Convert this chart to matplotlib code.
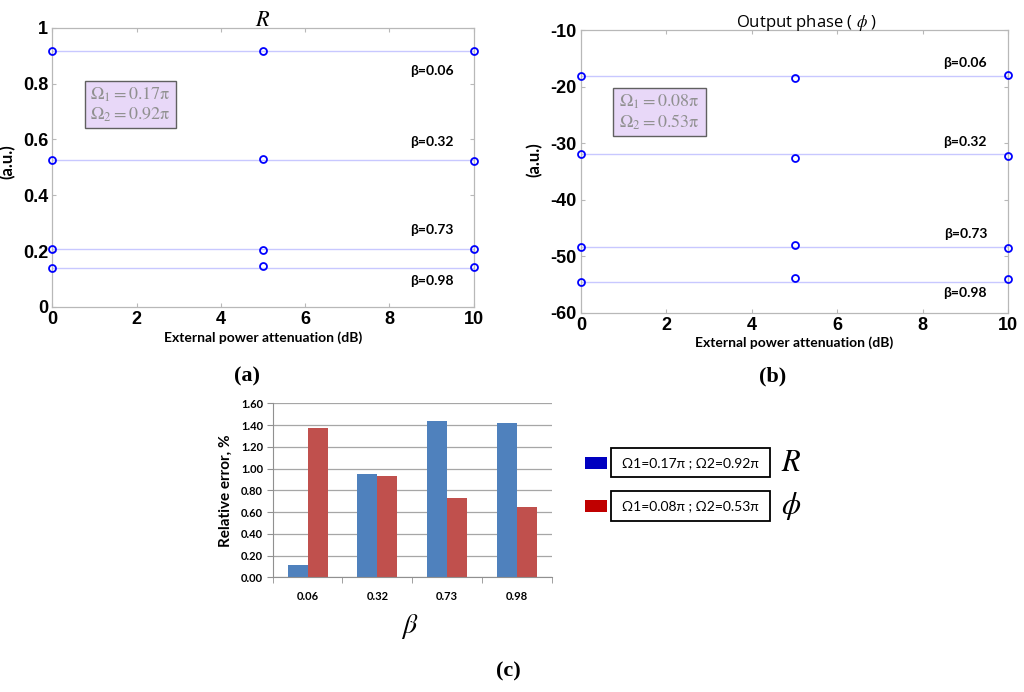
import matplotlib
matplotlib.use("Agg")
import matplotlib.pyplot as plt
import numpy as np
from matplotlib.patches import Rectangle

plt.rcParams['mathtext.fontset'] = 'stix'

# ---- data ----
atten_db = [0, 5, 10]
betas = ["0.06", "0.32", "0.73", "0.98"]

# panel (a): R
R_points = [
    [0.917, 0.915, 0.917],
    [0.527, 0.531, 0.524],
    [0.207, 0.204, 0.209],
    [0.141, 0.145, 0.143],
]
R_ref = [0.917, 0.527, 0.207, 0.141]
R_label_y = [0.846, 0.59, 0.275, 0.093]

# panel (b): phase
phi_points = [
    [-18.1, -18.5, -18.0],
    [-32.0, -32.6, -32.35],
    [-48.3, -48.0, -48.5],
    [-54.5, -53.8, -54.0],
]
phi_ref = [-18.1, -32.0, -48.3, -54.5]
phi_label_y = [-15.9, -29.75, -46.1, -56.6]

# panel (c): relative error
err_R = [0.11, 0.95, 1.44, 1.42]
err_phi = [1.37, 0.935, 0.725, 0.645]

narrow = ['Liberation Sans Narrow', 'Liberation Sans', 'DejaVu Sans']
calib = ['Lato', 'DejaVu Sans']

fig = plt.figure(figsize=(10.24, 6.92), dpi=100)


def style_matlab(ax, yticks, ylabels):
    for s in ax.spines.values():
        s.set_color('#b8b8b8')
        s.set_linewidth(0.9)
    ax.set_xticks([0, 2, 4, 6, 8, 10])
    ax.set_xticklabels(['0', '2', '4', '6', '8', '10'])
    ax.set_yticks(yticks)
    ax.set_yticklabels(ylabels)
    ax.tick_params(direction='in', length=3, color='#b8b8b8', top=True, right=True,
                   labelsize=13, pad=3)
    for lab in ax.get_xticklabels() + ax.get_yticklabels():
        lab.set_family(narrow)
        lab.set_weight('bold')


def line_panel(ax, pts, ref, lab_y, ylim, yticks, ylabels, box_xy, box_wh, box_txt,
               ylab_xy):
    for p, r in zip(pts, ref):
        ax.plot([0, 10], [r, r], color='#c8c8ff', lw=1.0, zorder=1)
        ax.plot(atten_db, p, 'o', ms=5, mfc='none', mec='#0000ff', mew=1.3,
                zorder=3, clip_on=False)
    for b, y in zip(betas, lab_y):
        ax.text(9.0, y, "β=" + b, ha='center', va='center', fontsize=10,
                family=calib, weight='bold')
    ax.set_xlim(0, 10)
    ax.set_ylim(*ylim)
    style_matlab(ax, yticks, ylabels)
    ax.add_patch(Rectangle(box_xy, box_wh[0], box_wh[1], facecolor='#e8d8f8',
                           edgecolor='#606060', lw=1.0, zorder=2))
    ax.text(box_xy[0] + box_wh[0] / 2, box_xy[1] + box_wh[1] / 2, box_txt,
            ha='center', va='center', fontsize=13, color='#909090',
            linespacing=1.1, zorder=3)
    ax.set_xlabel("External power attenuation (dB)", fontsize=10, family=calib,
                  weight='bold', labelpad=2)
    ax.set_ylabel("(a.u.)", fontsize=12, family=calib, weight='bold')
    ax.yaxis.set_label_coords(*ylab_xy)


# (a)
axa = fig.add_axes([0.0511, 0.5564, 0.4115, 0.4036])
line_panel(axa, R_points, R_ref, R_label_y, (0, 1),
           [0, 0.2, 0.4, 0.6, 0.8, 1.0], ['0', '0.2', '0.4', '0.6', '0.8', '1'],
           (0.78, 0.64), (2.15, 0.17),
           "$\\mathrm{\\Omega_1 = 0.17\\pi}$\n$\\mathrm{\\Omega_2 = 0.92\\pi}$",
           (-0.088, 0.52))
axa.set_title("$R$", fontsize=16, pad=1)

# (b)
axb = fig.add_axes([0.5674, 0.5481, 0.417, 0.4085])
line_panel(axb, phi_points, phi_ref, phi_label_y, (-60, -10),
           [-60, -50, -40, -30, -20, -10], ['-60', '-50', '-40', '-30', '-20', '-10'],
           (0.75, -28.8), (2.17, 8.5),
           "$\\mathrm{\\Omega_1 = 0.08\\pi}$\n$\\mathrm{\\Omega_2 = 0.53\\pi}$",
           (-0.091, 0.54))
axb.set_title("Output phase ( $\\phi$ )", fontsize=12, family=['Open Sans', 'DejaVu Sans'],
              pad=2, x=0.529)

# (c) bars
axc = fig.add_axes([0.2663, 0.1658, 0.2725, 0.2514])
x = np.arange(len(betas))
w = 0.287
axc.bar(x - w / 2, err_R, w, color='#4f81bd', zorder=2)
axc.bar(x + w / 2, err_phi, w, color='#c0504d', zorder=2)
axc.set_xlim(-0.5, len(betas) - 0.5)
axc.set_ylim(0, 1.6)
yt = np.arange(0, 1.61, 0.2)
axc.set_yticks(yt)
axc.set_yticklabels(["%.2f" % v for v in yt])
axc.yaxis.grid(True, color='#a6a6a6', lw=0.9, zorder=0)
axc.set_axisbelow(True)
axc.set_xticks(x)
axc.set_xticklabels(betas)
axc.set_xticks(np.arange(-0.5, len(betas), 1.0), minor=True)
axc.tick_params(axis='x', which='major', length=0, pad=10)
axc.tick_params(axis='x', which='minor', length=4, color='#909090')
axc.tick_params(axis='y', length=4, color='#909090', pad=3)
for lab in axc.get_xticklabels() + axc.get_yticklabels():
    lab.set_family(calib)
    lab.set_weight('bold')
    lab.set_fontsize(8)
for s in ['top', 'right']:
    axc.spines[s].set_visible(False)
for s in ['left', 'bottom']:
    axc.spines[s].set_color('#909090')
axc.set_ylabel("Relative error, %", fontsize=11, family=calib, weight='bold', labelpad=6)

# legend for (c)
leg_items = [("#0000c0", "Ω1=0.17π ; Ω2=0.92π", "$R$", 0.3312),
             ("#c00000", "Ω1=0.08π ; Ω2=0.53π", "$\\phi$", 0.2688)]
for col, txt, sym, yc in leg_items:
    fig.patches.append(Rectangle((0.5713, yc - 0.0087), 0.0215, 0.0174,
                                 transform=fig.transFigure, facecolor=col,
                                 edgecolor='none'))
    fig.patches.append(Rectangle((0.5964, yc - 0.021), 0.1556, 0.042,
                                 transform=fig.transFigure, facecolor='white',
                                 edgecolor='black', lw=1.3))
    fig.text(0.6742, yc, txt, ha='center', va='center', fontsize=10, family=calib)
    fig.text(0.773, yc, sym, ha='center', va='center', fontsize=22)

# panel letters
fig.text(0.2412, 0.456, "(a)", ha='center', va='center', fontsize=16,
         family='Liberation Serif', weight='bold')
fig.text(0.7549, 0.456, "(b)", ha='center', va='center', fontsize=16,
         family='Liberation Serif', weight='bold')
fig.text(0.4961, 0.03, "(c)", ha='center', va='center', fontsize=16,
         family='Liberation Serif', weight='bold')
fig.text(0.4004, 0.094, "$\\beta$", ha='center', va='center', fontsize=20)

fig.savefig("out.png", dpi=100)
